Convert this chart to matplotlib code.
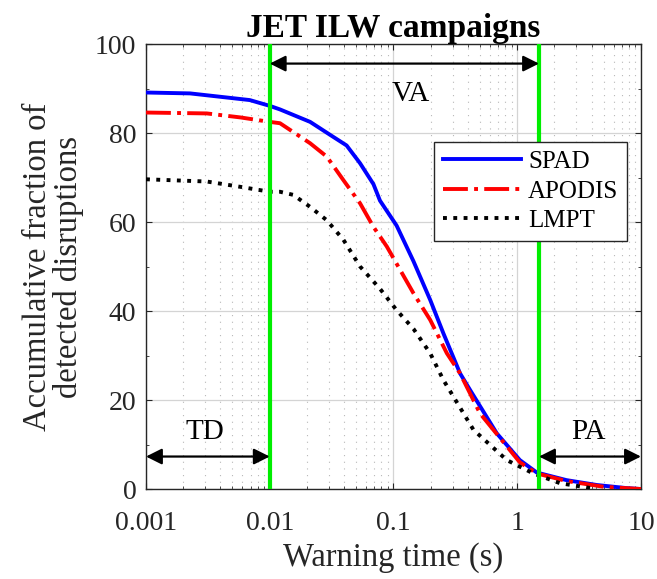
import numpy as np
import matplotlib.pyplot as plt
from matplotlib.ticker import LogLocator, NullFormatter, FixedLocator

plt.rcParams['font.family'] = ['Liberation Serif', 'DejaVu Serif']

# curves: warning time (s) -> accumulative fraction (%)
spad_t = [0.001, 0.00227, 0.0069, 0.01, 0.0121, 0.0212, 0.0307, 0.0418, 0.0537, 0.0689,
          0.0778, 0.106, 0.145, 0.198, 0.253, 0.345, 0.417, 0.684, 1.05, 1.44, 2.5, 4.4, 7.7, 10]
spad_v = [89.1, 88.9, 87.4, 86.1, 85.3, 82.5, 79.6, 77.2, 73.2, 68.5,
          64.8, 59.2, 51.2, 42.5, 35.0, 26.0, 22.2, 12.5, 6.5, 3.7, 2.0, 0.9, 0.2, 0.0]

apodis_t = [0.001, 0.0031, 0.0058, 0.01, 0.0121, 0.0212, 0.0289, 0.0394, 0.0537, 0.0689,
            0.0883, 0.120, 0.145, 0.198, 0.270, 0.345, 0.50, 1.05, 1.44, 2.5, 5.0, 10]
apodis_v = [84.6, 84.4, 83.5, 82.5, 82.2, 77.7, 74.7, 69.4, 64.2, 58.9,
            54.5, 48.0, 44.0, 38.0, 30.5, 26.0, 17.0, 6.0, 3.5, 1.8, 0.5, 0.0]

lmpt_t = [0.001, 0.0031, 0.0058, 0.01, 0.0121, 0.0155, 0.0212, 0.0289, 0.0394, 0.0537,
          0.0778, 0.106, 0.145, 0.198, 0.253, 0.443, 0.824, 1.35, 2.22, 4.4]
lmpt_v = [69.6, 69.1, 67.9, 66.8, 66.8, 66.1, 63.4, 60.4, 56.0, 50.0,
          45.0, 40.2, 36.0, 30.5, 24.5, 13.3, 6.5, 3.5, 1.3, 0.0]

td_limit = 0.01
pa_limit = 1.5

fig = plt.figure(figsize=(6.57, 5.79), dpi=100)
ax = fig.add_axes([0.2222, 0.1554, 0.7534, 0.7686])

ax.plot(spad_t, spad_v, color='#0000ff', lw=2.8, ls='-', label='SPAD', zorder=4)
ax.plot(apodis_t, apodis_v, color='#ff0000', lw=2.8, ls='-.', label='APODIS', zorder=4)
ax.plot(lmpt_t, lmpt_v, color='black', lw=2.8, ls=':', label='LMPT', zorder=4)

ax.axvline(td_limit, color='#00ee00', lw=3, zorder=5)
ax.axvline(pa_limit, color='#00ee00', lw=3, zorder=5)

arrow = dict(arrowstyle='<|-|>', color='black', lw=1.6, mutation_scale=24, shrinkA=0, shrinkB=0)
ax.annotate('', xy=(0.001, 7.3), xytext=(td_limit, 7.3), arrowprops=arrow, zorder=6)
ax.annotate('', xy=(pa_limit, 7.3), xytext=(10, 7.3), arrowprops=arrow, zorder=6)
ax.annotate('', xy=(td_limit, 95.6), xytext=(pa_limit, 95.6), arrowprops=arrow, zorder=6)
ax.text(0.003, 12.9, 'TD', fontsize=21, ha='center', va='center')
ax.text(3.74, 12.9, 'PA', fontsize=21, ha='center', va='center')
ax.text(0.137, 88.8, 'VA', fontsize=21, ha='center', va='center')

ax.set_xscale('log')
ax.set_xlim(0.001, 10)
ax.set_ylim(0, 100)
ax.set_xticks([0.001, 0.01, 0.1, 1, 10])
ax.set_xticklabels(['0.001', '0.01', '0.1', '1', '10'])
ax.xaxis.set_minor_locator(LogLocator(base=10, subs=np.arange(2, 10)))
ax.xaxis.set_minor_formatter(NullFormatter())
ax.set_yticks([0, 20, 40, 60, 80, 100])
ax.yaxis.set_minor_locator(FixedLocator([10, 30, 50, 70, 90]))

ax.grid(which='major', color='#d4d4d4', lw=0.9, ls='-')
ax.grid(which='minor', axis='x', color='#b8b8b8', lw=0.8, ls=(0, (1, 5)))
ax.tick_params(which='both', direction='in', top=True, right=True, colors='#262626', labelcolor='#262626')
ax.tick_params(which='major', length=4, labelsize=20)
ax.tick_params(axis='x', which='major', pad=16)
ax.tick_params(axis='y', which='major', pad=7)
ax.tick_params(which='minor', length=2)
for s in ax.spines.values():
    s.set_color('#262626')
    s.set_linewidth(1.0)

ax.set_xlabel('Warning time (s)', fontsize=23.5, color='#262626', labelpad=4)
ax.set_ylabel('Accumulative fraction of\ndetected disruptions', fontsize=23.5, color='#262626',
              labelpad=8, linespacing=1.0)
ax.set_title('JET ILW campaigns', fontsize=24, fontweight='bold', pad=4)

leg = ax.legend(loc='upper right', bbox_to_anchor=(0.972, 0.78), fontsize=18, handlelength=3.1,
                fancybox=False, framealpha=1, edgecolor='#262626', borderpad=0.35,
                labelspacing=0.28, handletextpad=0.3, borderaxespad=0)
leg.get_frame().set_linewidth(1.0)
leg.set_zorder(10)

fig.savefig('out.png', dpi=100)
